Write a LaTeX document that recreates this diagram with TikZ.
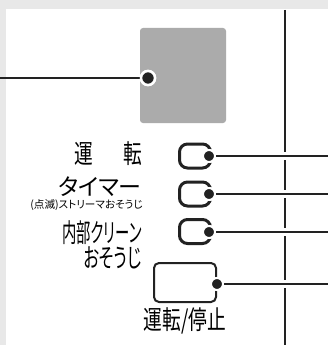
\documentclass[tikz,border=0pt]{standalone}
\usepackage{fontspec}
\newfontfamily\jpfont[FakeStretch=0.72,RawFeature=+palt]{Noto Sans CJK JP}
\newfontfamily\jpmid[FakeStretch=0.63,RawFeature=+palt]{Noto Sans CJK JP}
\newfontfamily\jpnarrow[FakeStretch=0.55,RawFeature=+palt]{Noto Sans CJK JP}
\newfontfamily\jpwide[RawFeature=+palt]{Noto Sans CJK JP}
\usetikzlibrary{positioning}
\definecolor{panelgray}{HTML}{E8E8E8}
\definecolor{keygray}{HTML}{ABABAB}
\definecolor{wirecol}{HTML}{222222}

\tikzset{
  wire/.style={line width=2pt, draw=wirecol, preaction={draw=white, line width=8pt}},
  ledkey/.style={draw=wirecol, line width=3pt, rounded corners=8pt, minimum width=31pt, minimum height=24pt, inner sep=0pt},
  pin/.style={circle, fill=wirecol, draw=white, line width=2pt, inner sep=0pt, minimum size=12pt},
  jptext/.style={font=\jpfont\fontsize{26}{28}\selectfont, anchor=east, inner sep=0pt},
}

\begin{document}
\begin{tikzpicture}[x=1pt,y=-1pt]

  % panel
  \fill[panelgray] (0,0) rectangle (328,345);
  \fill[white] (6,9) rectangle (328,345);
  \useasboundingbox (0,0) rectangle (328,345);
  \draw[wirecol, line width=1.2pt] (285,10) -- (285,345);

  % display key
  \node[fill=keygray, rounded corners=3pt, minimum width=86pt, minimum height=95pt, inner sep=0pt] (panel) at (183,75.5) {};
  \coordinate (lft) at (0,78);
  \node[pin, line width=2.5pt, minimum size=14pt] (pd) at (148,78) {};
  \draw[wirecol, line width=2pt] (lft) -- (pd.center);
  \node[pin, line width=2.5pt, minimum size=14pt] at (148,78) {};

  % lamps
  \node[ledkey] (k1) at (195,156) {};
  \node[ledkey] (k2) at (195,194) {};
  \node[ledkey] (k3) at (195,231.5) {};
  \node[draw=wirecol, line width=2pt, rounded corners=5pt, minimum width=62pt, minimum height=39pt, inner sep=0pt] (k4) at (185,282.5) {};

  \node[pin] (d1) at (209,156) {};
  \node[pin] (d2) at (209,194) {};
  \node[pin] (d3) at (209,232) {};
  \node[pin] (d4) at (217,284) {};
  \coordinate (e1) at (328,156);
  \coordinate (e2) at (328,194);
  \coordinate (e3) at (328,232);
  \coordinate (e4) at (328,284);

  \draw[wire] (d1.center) -- (e1);
  \draw[wire] (d2.center) -- (e2);
  \draw[wire] (d3.center) -- (e3);
  \draw[wire] (d4.center) -- (e4);
  \foreach \p in {d1,d2,d3,d4}
    \node[pin] at (\p) {};

  % labels
  \node[jptext] (t1) at (142,154) {運\hspace{30pt}転};
  \node[jptext, font=\jpwide\fontsize{23}{25}\selectfont] (t2) at (142,187) {タイマー};
  \node[jptext, font=\jpwide\fontsize{10.6}{12}\selectfont] (t3) at (143,205) {(点滅)ストリーマおそうじ};
  \node[jptext, font=\jpnarrow\fontsize{26}{28}\selectfont] (t4) at (142,233) {内部クリーン};
  \node[jptext, font=\jpmid\fontsize{26}{28}\selectfont] (t5) at (142,257.5) {おそうじ};
  \node[jptext, anchor=north] (t6) [below=4pt of k4] {運転/停止};

\end{tikzpicture}
\end{document}
